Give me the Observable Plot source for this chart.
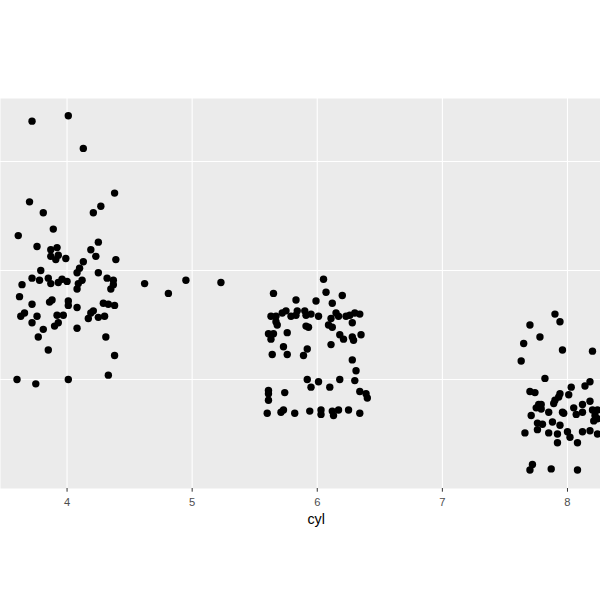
<!DOCTYPE html>
<html>
<head>
<meta charset="utf-8">
<script src="https://cdn.jsdelivr.net/npm/d3@7"></script>
<script src="https://cdn.jsdelivr.net/npm/@observablehq/plot@0.6"></script>
<style>
  html, body { margin: 0; padding: 0; background: #ffffff; overflow: hidden; }
  #chart { width: 600px; height: 600px; }
  #chart svg { font-family: "Liberation Sans", Arial, sans-serif; }
  #chart [aria-label="x-axis tick label"] text { fill: #4D4D4D; }
  #chart [aria-label="x-axis label"] text { fill: #000000; font-size: 14.3px; }
</style>
</head>
<body>
<div id="chart"></div>
<script>
// Jittered positions (cyl on x, hwy on y)
const cyl4X = [3.72,4.01,4.13,4.38,3.70,4.27,4.21,3.81,3.89,3.61,4.25,3.76,3.92,3.87,4.19,3.87,3.93,3.91,3.99,4.23,4.39,4.13,4.10,4.08,3.79,4.25,3.72,3.78,3.85,3.87,3.96,3.93,4.00,4.12,4.09,4.32,4.37,4.37,3.64,4.08,4.35,3.62,3.72,3.88,3.86,4.01,4.01,4.08,4.29,4.33,4.38,3.66,3.63,3.76,3.92,3.97,3.93,3.90,3.72,3.81,4.19,4.21,4.17,4.25,4.30,4.08,3.77,4.31,3.85,4.38,4.33,3.60,3.75,4.01];
const cyl4Y = [43.7,44.2,41.2,37.1,36.3,35.9,35.3,35.3,33.8,33.2,32.6,32.2,32.1,31.9,31.9,31.3,31.4,31.0,31.1,31.3,31.0,30.8,30.2,29.8,30.0,29.8,29.3,29.1,29.3,28.8,29.2,28.9,29.0,29.1,28.8,29.3,29.1,28.7,28.7,28.3,28.3,27.6,26.9,27.3,27.1,27.2,26.8,26.6,27.0,26.9,26.8,26.1,25.8,25.8,25.9,25.9,25.2,24.9,25.2,24.6,26.1,26.3,25.6,25.7,25.8,24.7,23.9,23.9,22.7,22.2,20.4,20.0,19.6,20.0];
const cyl5X = [4.62,4.81,4.95,5.23];
const cyl5Y = [28.8,27.9,29.1,28.9];
const cyl6X = [6.05,5.65,6.07,6.20,5.83,5.99,6.12,5.75,5.72,5.63,5.67,5.79,5.83,5.84,5.90,5.91,5.95,6.01,6.11,6.15,6.17,6.23,6.26,6.30,6.34,5.67,5.68,5.91,5.93,6.09,6.12,6.28,5.61,5.65,5.63,5.76,6.18,6.21,6.28,6.29,6.35,6.11,5.73,5.92,5.89,5.64,5.76,6.28,6.31,5.92,6.01,5.95,6.10,6.18,6.30,5.61,5.61,5.61,5.74,6.34,6.39,6.40,5.60,5.71,5.73,5.82,5.94,6.03,6.03,6.12,6.13,6.17,6.25,6.34];
const cyl6Y = [29.2,27.9,28.0,27.7,27.3,27.2,27.0,26.3,26.1,25.8,25.8,25.8,25.9,26.3,26.3,25.9,26.0,25.8,25.6,26.1,25.8,25.8,25.9,26.1,26.0,25.3,25.0,24.9,24.8,25.0,24.8,25.2,24.2,24.2,23.7,24.3,24.1,23.7,23.9,23.6,24.1,23.2,23.0,22.8,22.2,22.3,22.3,21.8,20.8,20.0,19.8,19.3,19.3,20.0,19.9,19.0,18.7,18.1,18.8,18.9,18.7,18.3,16.9,17.0,17.2,16.9,17.1,17.2,16.8,17.1,16.7,17.2,17.2,16.9];
const cyl8X = [7.90,7.94,7.70,7.78,7.65,7.96,8.20,7.63,7.82,8.03,8.14,8.18,7.70,7.74,7.94,7.93,7.90,7.89,8.01,8.05,8.12,8.18,7.77,7.79,7.75,7.79,7.85,7.96,7.97,7.71,8.07,8.12,8.20,8.24,8.22,8.21,8.24,7.76,7.80,7.88,7.94,7.76,7.66,7.85,7.92,8.00,8.02,8.12,8.18,8.24,7.92,8.08,7.72,7.70,7.87,8.08];
const cyl8Y = [26.0,25.3,25.0,23.9,23.3,22.7,22.6,21.7,20.1,19.3,19.4,19.8,18.9,18.8,18.7,18.4,18.1,17.8,18.6,17.4,17.7,18.0,17.7,17.7,17.4,17.3,17.0,17.0,16.9,16.7,16.8,17.0,17.2,17.2,16.7,16.2,16.4,16.0,15.9,16.1,15.8,15.4,15.1,15.1,15.0,15.2,14.7,15.2,15.3,15.0,14.2,14.2,12.2,11.7,11.8,11.7];
const xTicks = [4, 5, 6, 7, 8];
const yGrid = [20, 30, 40];
const xLabel = "cyl";

const points = [];
[[cyl4X, cyl4Y], [cyl5X, cyl5Y], [cyl6X, cyl6Y], [cyl8X, cyl8Y]].forEach(([xs, ys]) => {
  xs.forEach((v, i) => points.push({cyl: v, hwy: ys[i]}));
});

const chart = Plot.plot({
  width: 600,
  height: 600,
  marginTop: 98,
  marginBottom: 112,
  marginLeft: 0,
  marginRight: 0,
  x: {domain: [3.468, 8.264], axis: null},
  y: {domain: [10.0, 45.78], axis: null},
  marks: [
    Plot.frame({fill: "#EBEBEB", stroke: null}),
    Plot.gridX(xTicks, {stroke: "#ffffff", strokeOpacity: 1, strokeWidth: 1.1}),
    Plot.gridY(yGrid, {stroke: "#ffffff", strokeOpacity: 1, strokeWidth: 1.1}),
    Plot.dot(points, {x: "cyl", y: "hwy", r: 3.7, fill: "#000000", stroke: null, clip: true}),
    Plot.axisX(xTicks, {
      anchor: "bottom",
      tickSize: 3.7,
      tickPadding: 6,
      stroke: "#333333",
      fontSize: 11.2,
      tickFormat: d => String(d),
      label: xLabel,
      labelAnchor: "center",
      labelArrow: "none",
      labelOffset: 35
    })
  ]
});
// The full ggplot panel (with its cut-off y axis) is centred slightly right of this view
d3.select(chart).selectAll('[aria-label="x-axis label"] text').attr("dx", 15.7);
document.getElementById("chart").appendChild(chart);
</script>
</body>
</html>
